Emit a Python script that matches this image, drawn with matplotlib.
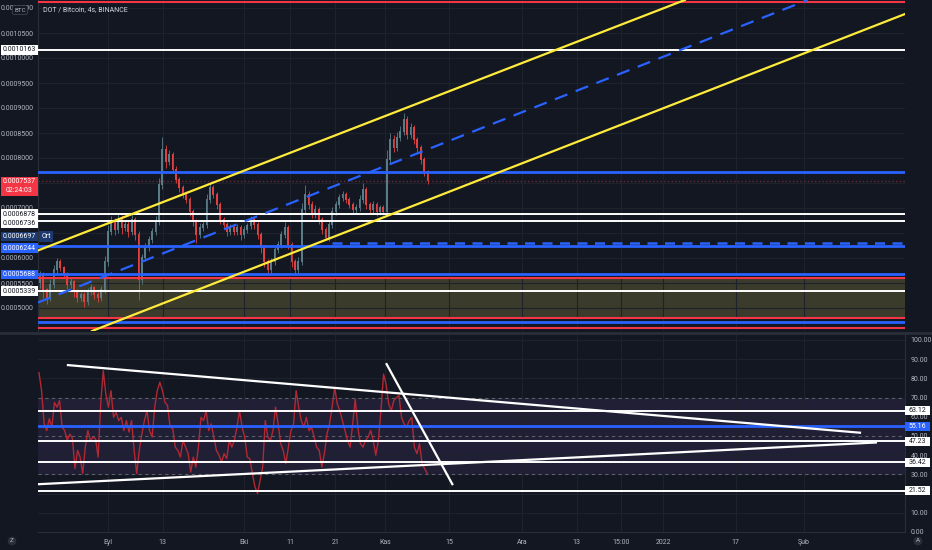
import matplotlib
matplotlib.use("Agg")
import matplotlib.pyplot as plt
from matplotlib.patches import Rectangle
import numpy as np

plt.rcParams['font.family'] = ['Roboto', 'DejaVu Sans']

BG = "#131722"
GRID = "#1e222d"
TXT = "#b2b5be"
BLUE = "#2962ff"
RED = "#f23645"
YEL = "#ffeb3b"
UP = "#5a7c87"
DOWN = "#e0403f"

# x axis is in days counted from 1 Sep 2021, prices in units of 1e-7 BTC
first_bar_day, last_bar_day = -14.95, 70.24
first_open = 5500
close = [5660, 5360, 5200, 5460, 5760, 5920, 5800, 5660, 5460, 5520,
         5320, 5200, 5260, 5120, 5320, 5400, 5260, 5200, 5360, 5920,
         6520, 6720, 6560, 6760, 6600, 6660, 6520, 6760, 6460, 5560,
         6000, 6200, 6360, 6520, 6720, 7460, 8160, 7920, 8060, 7760,
         7560, 7400, 7260, 7160, 6920, 6720, 6460, 6600, 6660, 7160,
         7400, 7260, 7060, 6760, 6660, 6520, 6600, 6520, 6600, 6460,
         6560, 6640, 6760, 6660, 6460, 6200, 5920, 5760, 5920, 6160,
         6260, 6460, 6600, 6260, 5920, 5760, 5920, 6960, 7260, 7060,
         6860, 6960, 6760, 6560, 6400, 6660, 6920, 7060, 7200, 7260,
         7160, 7060, 6960, 7000, 7160, 7360, 7060, 6960, 7060, 6920,
         7000, 6920, 7960, 8360, 8200, 8400, 8520, 8760, 8460, 8600,
         8360, 8200, 7960, 7720, 7537]
upper_wick = [80, 60, 50, 120, 100, 90, 60, 50, 60, 80,
              50, 60, 70, 60, 90, 80, 50, 60, 80, 120,
              150, 120, 80, 120, 100, 90, 80, 120, 60, 80,
              80, 100, 80, 90, 120, 150, 260, 100, 100, 60,
              80, 60, 60, 80, 60, 60, 60, 100, 80, 120,
              100, 60, 60, 60, 60, 60, 80, 60, 80, 60,
              80, 60, 80, 60, 60, 60, 60, 60, 80, 80,
              80, 80, 120, 60, 60, 60, 100, 150, 200, 80,
              80, 100, 60, 60, 60, 80, 100, 80, 80, 80,
              60, 60, 60, 80, 100, 140, 60, 60, 80, 60,
              60, 60, 200, 150, 100, 120, 120, 140, 80, 100,
              60, 60, 60, 60, 40]
lower_wick = [100, 150, 120, 60, 60, 80, 60, 60, 80, 60,
              100, 80, 60, 100, 60, 60, 80, 80, 60, 60,
              80, 60, 100, 60, 120, 60, 100, 60, 100, 400,
              80, 60, 60, 60, 60, 60, 80, 120, 60, 60,
              60, 80, 60, 60, 80, 80, 160, 60, 60, 60,
              60, 60, 80, 80, 60, 80, 60, 60, 60, 100,
              60, 60, 60, 80, 80, 100, 100, 100, 60, 60,
              60, 60, 60, 80, 100, 100, 60, 60, 60, 80,
              60, 60, 80, 80, 40, 60, 60, 60, 60, 60,
              60, 60, 60, 60, 60, 60, 80, 60, 60, 80,
              60, 60, 60, 60, 80, 60, 60, 60, 80, 60,
              80, 80, 80, 80, 60]

rsi_first_day, rsi_last_day = -15.16, 70.18
rsi = [83, 73.6, 56.5, 52.8, 59, 54.5, 67.5, 65, 68.4, 54.6,
       52.8, 47.7, 51, 48.7, 33, 42.5, 39, 30.5, 44.2, 52.8,
       47.7, 49.4, 48.5, 39, 66.8, 84, 71.8, 65, 73.6, 59.7,
       62.3, 58, 59.7, 52.8, 58, 52, 58, 42.5, 30.4, 42.5,
       51, 58, 63.2, 52.8, 49.4, 65, 73.6, 78, 73.6, 67.5,
       65.8, 54.6, 53.9, 44.2, 42.5, 39, 47.7, 44.2, 40.8, 31.2,
       39, 33.8, 44.2, 59.7, 58, 63.2, 52.8, 56.3, 49.4, 42.5,
       40, 36.4, 40.8, 38.2, 47.7, 44.2, 47.7, 54.6,
       63.2, 54.6, 49.4, 39, 38.2, 30.4, 23.5, 20, 27, 33.8,
       58, 49.4, 47.7, 52.8, 65, 56.3, 46, 42.5, 35.6, 44.2,
       52.8, 56.3, 73.6, 65, 58, 54.6, 59.7, 52.8, 54.6, 49.4,
       44.2, 42.5, 33.8, 40.8, 51, 56.3, 65, 75.3, 66.7, 63.2,
       58, 52.8, 47.7, 44.2, 56.3, 69.2, 54.6, 46, 44.2, 47.7,
       49.4, 52.8, 47.7, 40, 47.7, 63.2, 82.2, 77, 66.7, 63.2,
       68.4, 70, 71, 59.7, 56.3, 54.6, 58, 59.7, 44.2, 40.8,
       46, 35.6, 33, 30.4]

tick_days = [0, 12, 30, 40, 50, 61, 75, 91, 103, 112.7, 122, 138, 153]
tick_labels = ["Eyl", "13", "Eki", "11", "21", "Kas", "15", "Ara", "13",
               "15:00", "2022", "17", "Şub"]

# price ticks; the ones hidden behind level labels are left blank
price_ticks = np.arange(5000, 11001, 500)
hidden_ticks = [6500, 7500]
rsi_ticks = np.arange(0, 101, 10)
hidden_rsi_ticks = [20]

# horizontal levels on the price pane
red_levels = [11120, 5600, 4800, 4600]
white_levels = [10163, 6878, 6736, 5339]
blue_levels = [7720, 6244, 5688, 4726]
zone = (4800, 5600)
last_price = 7537
avg_dash_level = 6310
avg_dash_start = 49.2

# sloped lines: (day, price) pairs
yellow_upper = ([-15.4, 126.8], [6150, 11160])
yellow_lower = ([-3.5, 175.2], [4540, 10880])
blue_mid = ([-15.4, 153.8], [5110, 11160])

# RSI levels and trend lines
rsi_white = [63.12, 47.23, 36.42, 21.52]
rsi_blue = [55.16]
rsi_bands = [70, 50, 30]
rsi_down = ([-8.8, 165.3], [86.9, 51.7])
rsi_up = ([-15.2, 168.8], [24.9, 46.6])
rsi_steep = ([61.25, 75.7], [87.4, 24.9])

# price labels on the left: (text, centre, face, text colour)
left_boxes = [("0.0010163", 10163, "white", BG),
              ("0.0006878", 6878, "white", BG),
              ("0.0006736", 6690, "white", BG),
              ("0.0006697", 6430, "#1c3a70", "white"),
              ("0.0006244", 6200, BLUE, "white"),
              ("0.0005688", 5670, BLUE, "white"),
              ("0.0005339", 5339, "white", BG)]

W, H = 932, 550
fig = plt.figure(figsize=(W / 100, H / 100), dpi=100, facecolor=BG)


def px_axes(x0, y0, x1, y1):
    return fig.add_axes([x0 / W, 1 - y1 / H, (x1 - x0) / W, (y1 - y0) / H])


ax = px_axes(38, 0, 905, 331)
rx = px_axes(38, 334, 905, 532)
xlim = (-15.38, 175.2)

for a in (ax, rx):
    a.set_facecolor(BG)
    a.set_xlim(*xlim)
    for s in a.spines.values():
        s.set_visible(False)
    a.set_xticks(tick_days)
    a.grid(True, color=GRID, lw=0.8)
    a.tick_params(length=0, colors=TXT, labelsize=5)

# ---- price pane
ax.set_ylim(4540, 11160)
ax.set_yticks(price_ticks)
ax.set_yticklabels(["" if v in hidden_ticks else f"{v * 1e-7:.7f}" for v in price_ticks])
ax.tick_params(axis="y", pad=3)
ax.set_xticklabels([])
ax.spines["left"].set_visible(True)
ax.spines["left"].set_color("#2a2e39")

ax.axhspan(*zone, color="#3b3b2b", zorder=0.8, lw=0)
for v in red_levels:
    ax.axhline(v, color=RED, lw=1.5, zorder=3)
for v in white_levels:
    ax.axhline(v, color="white", lw=1.4, zorder=3)
for v in blue_levels:
    ax.axhline(v, color=BLUE, lw=2, zorder=3)
ax.axhline(last_price, color="#6b2a33", lw=1, ls=":", zorder=1.6)
ax.plot([avg_dash_start, xlim[1]], [avg_dash_level] * 2, color=BLUE, lw=1.8,
        dashes=(4, 3), zorder=3)

n = len(close)
days = np.linspace(first_bar_day, last_bar_day, n)
opens = [first_open] + close[:-1]
highs = [max(o, c) + u for o, c, u in zip(opens, close, upper_wick)]
lows = [min(o, c) - w for o, c, w in zip(opens, close, lower_wick)]
cols = [UP if c >= o else DOWN for o, c in zip(opens, close)]
step = days[1] - days[0]
ax.vlines(days, lows, highs, colors=cols, lw=0.6, zorder=2)
ax.bar(days, [abs(c - o) + 15 for o, c in zip(opens, close)], width=step * 0.55,
       bottom=[min(o, c) for o, c in zip(opens, close)], color=cols, zorder=2.1)

ax.plot(*yellow_upper, color=YEL, lw=1.6, zorder=3.5)
ax.plot(*yellow_lower, color=YEL, lw=1.6, zorder=3.5)
ax.plot(*blue_mid, color=BLUE, lw=1.6, dashes=(6, 4), zorder=3.5)

ax.text(5 / 867, 1 - 10 / 331, "DOT / Bitcoin, 4s, BINANCE", transform=ax.transAxes,
        color="#d1d4dc", fontsize=5, va="center")

ytr = ax.get_yaxis_transform()
bw = 37 / 867
bh = 9.5 * 20
for txt, yc, face, tc in left_boxes:
    ax.add_patch(Rectangle((-bw, yc - bh / 2), bw, bh, transform=ytr,
                           facecolor=face, edgecolor="none", clip_on=False, zorder=5))
    ax.text(-bw / 2, yc, txt, transform=ytr, ha="center", va="center",
            fontsize=5, color=tc, clip_on=False, zorder=6)
ax.add_patch(Rectangle((-bw, 7440 - 190), bw, 380, transform=ytr, facecolor=RED,
                       edgecolor="none", clip_on=False, zorder=5))
ax.text(-bw / 2, 7440, "0.0007537\n02:24:03", transform=ytr, ha="center", va="center",
        fontsize=5, color="white", linespacing=1.3, clip_on=False, zorder=6)
ax.text(0.004, 6430, "Ort", transform=ytr, ha="left", va="center", fontsize=5,
        color="white", zorder=6,
        bbox=dict(boxstyle="square,pad=0.35", facecolor="#1c3a70", edgecolor="none"))

fig.text(20 / W, 1 - 10 / H, "BTC", ha="center", va="center", fontsize=4.5, color=TXT,
         bbox=dict(boxstyle="round,pad=0.3", facecolor=BG, edgecolor="#434651", lw=0.6))

# ---- RSI pane
rx.set_ylim(0, 103.1)
rx.set_yticks(rsi_ticks)
rx.set_yticklabels(["" if v in hidden_rsi_ticks else f"{v:.2f}" for v in rsi_ticks])
rx.yaxis.tick_right()
rx.tick_params(axis="y", pad=4)
rx.set_xticklabels(tick_labels)
rx.tick_params(axis="x", pad=5)
rx.spines["right"].set_visible(True)
rx.spines["right"].set_color("#2a2e39")
rx.spines["bottom"].set_visible(True)
rx.spines["bottom"].set_color("#2a2e39")

rx.axhspan(30, 70, color="#7e57c2", alpha=0.13, lw=0, zorder=0.8)
for v in rsi_bands:
    rx.axhline(v, color="#5d606b", lw=0.8, dashes=(3, 3), zorder=1.7)
for v in rsi_white:
    rx.axhline(v, color="white", lw=1.4, zorder=3)
for v in rsi_blue:
    rx.axhline(v, color=BLUE, lw=2, zorder=3)
rsi_days = np.linspace(rsi_first_day, rsi_last_day, len(rsi))
rx.plot(rsi_days, rsi, color="#b22833", lw=1, zorder=2.5)
for xs, ys in (rsi_down, rsi_up, rsi_steep):
    rx.plot(xs, ys, color="white", lw=1.6, zorder=3.5)

rtr = rx.get_yaxis_transform()
rw = 25 / 867
rh = 9 / 1.93
for v in rsi_white + rsi_blue:
    face = BLUE if v in rsi_blue else "white"
    rx.add_patch(Rectangle((1, v - rh / 2), rw, rh, transform=rtr, facecolor=face,
                           edgecolor="none", clip_on=False, zorder=5))
    rx.text(1 + rw / 2, v, f"{v:.2f}", transform=rtr, ha="center", va="center",
            fontsize=5, color="white" if v in rsi_blue else BG, clip_on=False, zorder=6)

fig.add_artist(plt.Line2D([0, 1], [1 - 332.5 / H] * 2, color="#2a2e39", lw=2))
for xp, ch in ((12, "Z"), (918, "A")):
    fig.text(xp / W, 1 - 541 / H, ch, ha="center", va="center", fontsize=4.5, color=TXT,
             bbox=dict(boxstyle="circle,pad=0.3", facecolor="#2a2e39", edgecolor="none"))

fig.savefig("out.png", dpi=100, facecolor=BG)
